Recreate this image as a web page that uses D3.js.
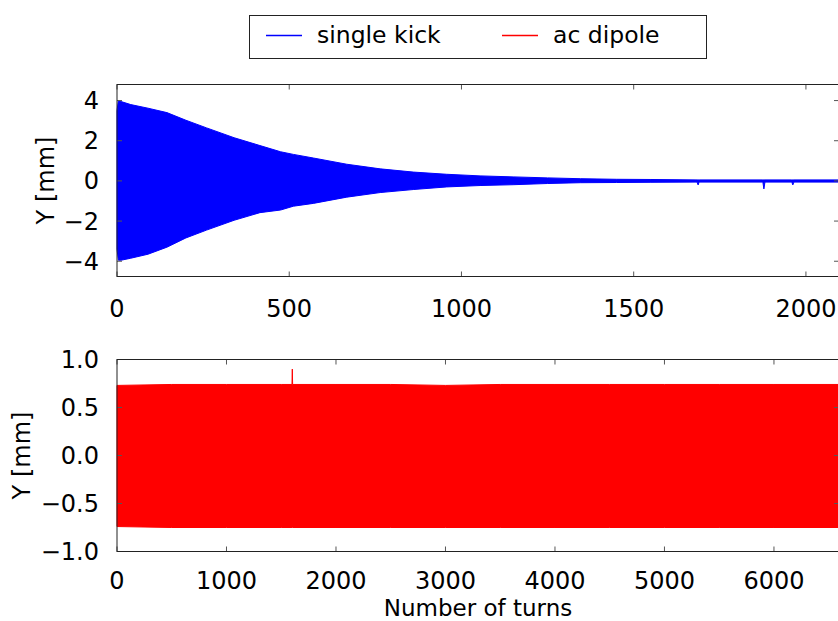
<!DOCTYPE html>
<html>
<title>Single kick vs ac dipole</title>
<meta charset="UTF-8">

<head>
    <style>
        body { margin: 0; background: white; }
        text { font-family: "DejaVu Sans", sans-serif; fill: black; }
        .tick-label { font-size: 24px; }
        .axis-label { font-size: 24px; text-anchor: middle; }
        .legend-label { font-size: 23.5px; }
    </style>
</head>

<body>
    <script src="https://d3js.org/d3.v7.min.js"></script>
    <svg id="svg" width="838" height="621"></svg>

    <script type="text/javascript">
        // single kick: envelope of the decaying oscillation
        const kick_turns = [0, 4, 12, 40, 90, 145, 200, 260, 340, 415, 475, 512, 570, 667, 764, 860, 957, 1054, 1150, 1250, 1345, 1450, 1550, 1684, 1687, 1690, 1875, 1878, 1881, 1959, 1962, 1965, 2096];
        const kick_upper = [3.5, 4.0, 3.95, 3.8, 3.62, 3.4, 3.02, 2.64, 2.15, 1.76, 1.45, 1.32, 1.14, 0.83, 0.6, 0.44, 0.33, 0.25, 0.2, 0.15, 0.11, 0.08, 0.07, 0.05, 0.05, 0.05, 0.05, 0.05, 0.05, 0.05, 0.05, 0.05, 0.05];
        const kick_lower = [-3.4, -3.95, -3.95, -3.85, -3.65, -3.3, -2.84, -2.45, -1.96, -1.58, -1.45, -1.26, -1.12, -0.81, -0.58, -0.43, -0.3, -0.23, -0.19, -0.13, -0.09, -0.08, -0.07, -0.06, -0.2, -0.06, -0.06, -0.4, -0.06, -0.06, -0.2, -0.06, -0.06];

        // ac dipole: driven oscillation, roughly constant envelope
        const ac_turns = [0, 500, 1000, 1500, 1598, 1601, 1604, 2000, 2500, 3000, 3500, 4000, 4500, 5000, 5500, 6000, 6594];
        const ac_upper = [0.73, 0.74, 0.74, 0.74, 0.74, 0.9, 0.74, 0.74, 0.74, 0.73, 0.74, 0.74, 0.74, 0.74, 0.74, 0.74, 0.74];
        const ac_lower = [-0.74, -0.75, -0.75, -0.75, -0.75, -0.75, -0.75, -0.75, -0.75, -0.75, -0.75, -0.75, -0.75, -0.75, -0.75, -0.75, -0.75];

        const top_xticks = [0, 500, 1000, 1500, 2000];
        const top_yticks = [-4, -2, 0, 2, 4];
        const bot_xticks = [0, 1000, 2000, 3000, 4000, 5000, 6000];
        const bot_yticks = [-1.0, -0.5, 0.0, 0.5, 1.0];

        const series_names = ["single kick", "ac dipole"];
        const series_colors = ["#0000ff", "#ff0000"];

        var svg = d3.select("svg");
        var left = 117, right = 839;

        function minus(s) { return s.replace("-", "\u2212"); }

        function panel(o) {
            var x = d3.scaleLinear().domain(o.xdom).range([left, right]);
            var y = d3.scaleLinear().domain(o.ydom).range([o.bottom, o.top]);
            var g = svg.append("g");

            var pts = o.turns.map(function (t, i) { return { t: t, hi: o.upper[i], lo: o.lower[i] }; });
            var area = d3.area().x(function (d) { return x(d.t); }).y0(function (d) { return y(d.lo); }).y1(function (d) { return y(d.hi); });
            g.append("path").datum(pts).attr("d", area)
                .attr("fill", o.color).attr("stroke", o.color).attr("stroke-width", 1);

            // ticks inside on all sides, like matplotlib classic
            var tl = 5;
            o.xticks.forEach(function (t) {
                g.append("line").attr("x1", x(t)).attr("x2", x(t)).attr("y1", o.bottom).attr("y2", o.bottom - tl).attr("stroke", "#555");
                g.append("line").attr("x1", x(t)).attr("x2", x(t)).attr("y1", o.top).attr("y2", o.top + tl).attr("stroke", "#555");
                g.append("text").attr("class", "tick-label").attr("x", x(t)).attr("y", o.bottom + o.xlabdy)
                    .attr("text-anchor", "middle").text(minus(o.xfmt(t)));
            });
            o.yticks.forEach(function (t) {
                g.append("line").attr("x1", left).attr("x2", left + tl).attr("y1", y(t)).attr("y2", y(t)).attr("stroke", "#555");
                g.append("line").attr("x1", right).attr("x2", right - tl).attr("y1", y(t)).attr("y2", y(t)).attr("stroke", "#555");
                g.append("text").attr("class", "tick-label").attr("x", left - 18).attr("y", y(t) + 8.5)
                    .attr("text-anchor", "end").text(minus(o.yfmt(t)));
            });

            g.append("rect").attr("x", left).attr("y", o.top).attr("width", right - left).attr("height", o.bottom - o.top)
                .attr("fill", "none").attr("stroke", "#222").attr("stroke-width", 1);

            g.append("text").attr("class", "axis-label")
                .attr("transform", "translate(" + o.ylabx + "," + (o.top + o.bottom) / 2 + ") rotate(-90)")
                .text("Y [mm]");
            return g;
        }

        panel({
            turns: kick_turns, upper: kick_upper, lower: kick_lower, color: series_colors[0],
            xdom: [0, 2096], ydom: [-4.76, 4.8], top: 84.5, bottom: 276.5, xlabdy: 40,
            xticks: top_xticks, yticks: top_yticks, xfmt: d3.format("d"), yfmt: d3.format("d"), ylabx: 54
        });

        panel({
            turns: ac_turns, upper: ac_upper, lower: ac_lower, color: series_colors[1],
            xdom: [0, 6594], ydom: [-1, 1], top: 359.5, bottom: 551.5, xlabdy: 37,
            xticks: bot_xticks, yticks: bot_yticks, xfmt: d3.format("d"), yfmt: d3.format(".1f"), ylabx: 30
        });

        svg.append("text").attr("class", "axis-label").style("font-size", "23px")
            .attr("x", (left + right) / 2).attr("y", 616).text("Number of turns");

        // legend
        var lg = svg.append("g");
        lg.append("rect").attr("x", 249.5).attr("y", 15.5).attr("width", 457).attr("height", 43)
            .attr("fill", "white").attr("stroke", "#222");
        var lx = [266, 502];
        series_names.forEach(function (n, i) {
            lg.append("line").attr("x1", lx[i]).attr("x2", lx[i] + 36).attr("y1", 35.5).attr("y2", 35.5)
                .attr("stroke", series_colors[i]).attr("stroke-width", 1.5);
            lg.append("text").attr("class", "legend-label").attr("x", lx[i] + 51).attr("y", 43).text(n);
        });
    </script>
</body>
</html>
